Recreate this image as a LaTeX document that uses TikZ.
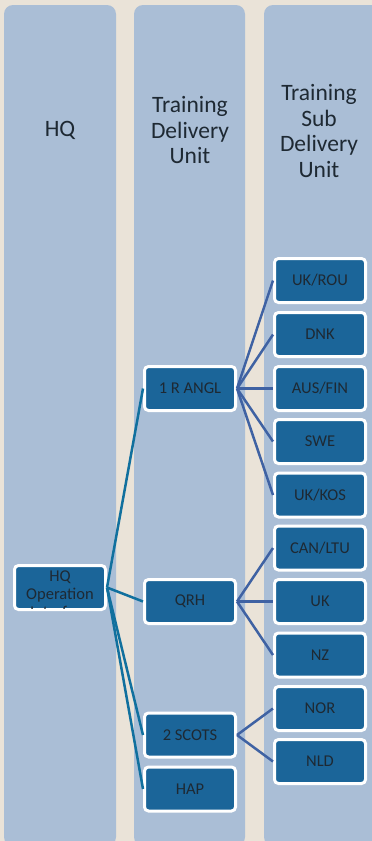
\documentclass[tikz,border=0pt]{standalone}
\usepackage{fontspec}
\setmainfont{Carlito}
\definecolor{bg}{HTML}{EAE3D8}
\definecolor{colfill}{HTML}{AABED6}
\definecolor{boxfill}{HTML}{1B6599}
\definecolor{hqline}{HTML}{11709E}
\definecolor{subline}{HTML}{3F62A3}
\definecolor{txt}{HTML}{1E2933}
\begin{document}
\begin{tikzpicture}[x=1pt,y=-1pt,
  colbox/.style={fill=colfill,rounded corners=9pt},
  header/.style={align=center,font=\fontsize{23.5}{25.5}\selectfont,text=txt},
  unitfont/.style={font=\fontsize{16.5}{17.5}\selectfont,text=txt},
  unit/.style={rectangle,fill=boxfill,draw=white,line width=3pt,rounded corners=4pt,
    minimum width=91pt,minimum height=44pt,inner sep=0pt,unitfont},
  hqlink/.style={draw=hqline,line width=2.5pt},
  sublink/.style={draw=subline,line width=2.5pt}]
\useasboundingbox (0,0) rectangle (372,841);
\fill[bg] (0,0) rectangle (372,841);
\clip (0,0) rectangle (372,841);
% columns
\fill[colbox] (4,5) rectangle (116,846);
\fill[colbox] (134,5) rectangle (245,846);
\fill[colbox] (264,5) rectangle (385,846);
% headers
\node[header] (h1) at (60,130) {HQ};
\node[header] (h2) at (190,130) {Training\\Delivery\\Unit};
\node[header] (h3) at (319,131) {Training\\Sub\\Delivery\\Unit};
% nodes
\node[unit] (hq) at (60,587.5) {};
\node[unit] (angl) at (190,388.5) {1 R ANGL};
\node[unit] (qrh) at (190,601.5) {QRH};
\node[unit] (scots) at (190,735) {2 SCOTS};
\node[unit] (hap) at (190,789) {HAP};
\node[unit] (rou) at (320,280.5) {UK/ROU};
\node[unit] (dnk) at (320,334.5) {DNK};
\node[unit] (fin) at (320,388.5) {AUS/FIN};
\node[unit] (swe) at (320,441.5) {SWE};
\node[unit] (kos) at (320,495) {UK/KOS};
\node[unit] (ltu) at (320,548) {CAN/LTU};
\node[unit] (uk) at (320,601.5) {UK};
\node[unit] (nz) at (320,655) {NZ};
\node[unit] (nor) at (320,708.5) {NOR};
\node[unit] (nld) at (320,761.5) {NLD};
% clipped HQ text
\begin{scope}
\clip (16,566) rectangle (104,608.5);
\node[anchor=base,unitfont,inner sep=0pt] (hqt1) at (60,581.7) {HQ};
\node[anchor=base,unitfont,inner sep=0pt] (hqt2) at (60,599.3) {Operation};
\node[anchor=base,unitfont,inner sep=0pt] (hqt3) at (60,617.5) {Interface};
\end{scope}
% connectors
\path[hqlink] (hq.east) -- (angl.west);
\path[hqlink] (hq.east) -- (qrh.west);
\path[hqlink] (hq.east) -- (scots.west);
\path[hqlink] (hq.east) -- (hap.west);
\foreach \t in {rou,dnk,fin,swe,kos} \path[sublink] (angl.east) -- (\t.west);
\foreach \t in {ltu,uk,nz} \path[sublink] (qrh.east) -- (\t.west);
\foreach \t in {nor,nld} \path[sublink] (scots.east) -- (\t.west);
\end{tikzpicture}
\end{document}
